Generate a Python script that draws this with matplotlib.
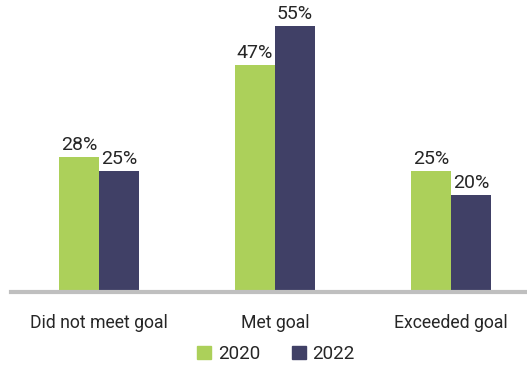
import matplotlib
matplotlib.use("Agg")
import matplotlib.pyplot as plt
from matplotlib.patches import Patch

categories = ["Did not meet goal", "Met goal", "Exceeded goal"]
series_names = ["2020", "2022"]
values_2020 = [28, 47, 25]
values_2022 = [25, 55, 20]
colors = ["#acd05a", "#404066"]

plt.rcParams['font.family'] = ['Roboto', 'DejaVu Sans']

fig = plt.figure(figsize=(5.27, 3.66), dpi=100)
ax = fig.add_axes([11/527, 74/366, (527-11)/527, 290/366])

x = list(range(len(categories)))
w = 40/176
b1 = ax.bar([i - w/2 for i in x], values_2020, width=w, color=colors[0])
b2 = ax.bar([i + w/2 for i in x], values_2022, width=w, color=colors[1])
for bars, vals in ((b1, values_2020), (b2, values_2022)):
    for r, v in zip(bars, vals):
        ax.text(r.get_x() + r.get_width()/2, v + 0.6, f"{v}%", ha="center", va="bottom",
                fontsize=14, color="#262626")

ax.set_xlim(-0.5, (527-99)/176)
ax.set_ylim(0, 60)
ax.set_yticks([])
ax.set_xticks(x)
ax.set_xticklabels(categories, fontsize=12.7, color="#262626")
ax.tick_params(axis='x', length=0, pad=16)
for s in ["top", "right", "left"]:
    ax.spines[s].set_visible(False)
ax.spines["bottom"].set_color("#bfbfbf")
ax.spines["bottom"].set_linewidth(3)

handles = [Patch(color=c, label=n) for c, n in zip(colors, series_names)]
fig.legend(handles=handles, loc="center", bbox_to_anchor=(276/527, 1 - 354/366), ncol=2,
           frameon=False, fontsize=13.5, handlelength=0.75, handleheight=0.75,
           handletextpad=0.35, columnspacing=1.7, labelcolor="#262626",
           borderpad=0, borderaxespad=0)

fig.savefig("out.png", dpi=100)
